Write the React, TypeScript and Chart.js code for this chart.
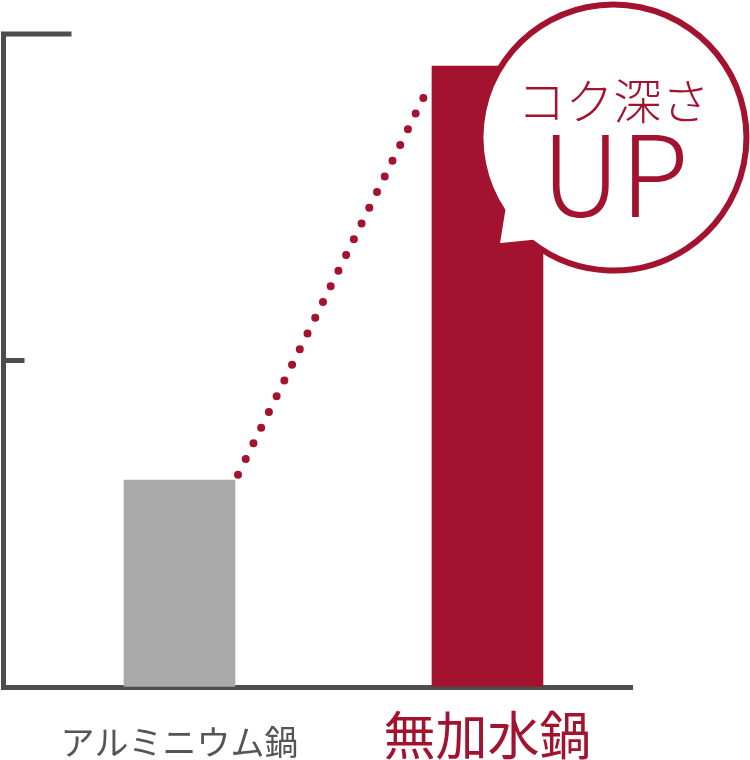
import React, { useEffect, useRef } from 'react';
import { Chart, ChartConfiguration, Plugin, registerables } from 'chart.js';

Chart.register(...registerables);

// categories and values (y axis 0..100, no labels)
const categories = ['アルミニウム鍋', '無加水鍋'];
const barPositions = [0, 1];
const richness = [31.7, 95.1];
const yTicks = [0, 50, 100];

// dotted trend line between the two bars
const trendX = [0.19, 0.8];
const trendY = [32.5, 91.0];

const bubbleLines = ['コク深さ', 'UP'];

const RED = '#a3122f';
const GRAY_BAR = '#aaaaaa';
const AXIS = '#4d4d4d';
const LABEL_GRAY = '#555555';
const JP_FONT = '"Noto Sans CJK JP", "Noto Sans", sans-serif';

const tickMarkPlugin: Plugin<'bar'> = {
  id: 'tickMarks',
  afterDraw(chart, _args, opts: any) {
    const { ctx, chartArea, scales } = chart;
    const y = scales.y;
    ctx.save();
    ctx.strokeStyle = opts.color;
    ctx.lineWidth = opts.width;
    yTicks.forEach((v, i) => {
      const len = opts.lengths[i];
      if (!len) return;
      const py = y.getPixelForValue(v);
      ctx.beginPath();
      ctx.moveTo(chartArea.left - opts.width / 2, py);
      ctx.lineTo(chartArea.left + len, py);
      ctx.stroke();
    });
    ctx.restore();
  },
};

const bubblePlugin: Plugin<'bar'> = {
  id: 'bubble',
  afterDatasetsDraw(chart, _args, opts: any) {
    const { ctx, scales } = chart;
    const cx = scales.x.getPixelForValue(opts.x);
    const cy = scales.y.getPixelForValue(opts.y);
    const r = opts.radius;
    const a1 = (opts.tailStart * Math.PI) / 180;
    const a2 = (opts.tailEnd * Math.PI) / 180;
    ctx.save();
    ctx.beginPath();
    ctx.arc(cx, cy, r, a1, a2, false);
    ctx.lineTo(cx + opts.tipDx, cy + opts.tipDy);
    ctx.closePath();
    ctx.fillStyle = '#ffffff';
    ctx.fill();
    ctx.lineWidth = opts.lineWidth;
    ctx.strokeStyle = RED;
    ctx.lineJoin = 'miter';
    ctx.stroke();

    ctx.fillStyle = RED;
    ctx.textAlign = 'center';
    ctx.textBaseline = 'middle';
    ctx.font = `300 48px ${JP_FONT}`;
    ctx.fillText(bubbleLines[0], cx, cy - 37);
    ctx.textBaseline = 'alphabetic';
    ctx.font = `300 112px ${JP_FONT}`;
    ctx.fillText(bubbleLines[1], cx + 1.5, cy + 79.5);
    ctx.restore();
  },
};

const App: React.FC = () => {
  const canvasRef = useRef<HTMLCanvasElement>(null);
  const chartRef = useRef<Chart | null>(null);

  useEffect(() => {
    if (!canvasRef.current) return;
    if (chartRef.current) {
      chartRef.current.destroy();
    }
    const ctx = canvasRef.current.getContext('2d');
    if (!ctx) return;

    const config: ChartConfiguration<'bar'> = {
      type: 'bar',
      data: {
        datasets: [
          {
            type: 'line' as any,
            data: trendX.map((x, i) => ({ x, y: trendY[i] })) as any,
            borderColor: RED,
            borderWidth: 8,
            borderDash: [0, 17.5],
            borderCapStyle: 'round',
            pointRadius: 0,
            fill: false,
          } as any,
          {
            data: barPositions.map((x, i) => ({ x, y: richness[i] })) as any,
            backgroundColor: [GRAY_BAR, RED],
            borderWidth: 0,
            barThickness: 111,
          },
        ],
      },
      options: {
        responsive: false,
        animation: false,
        layout: { padding: { left: 3.5, top: 34, right: 118, bottom: 0 } },
        plugins: {
          legend: { display: false },
          tooltip: { enabled: false },
          tickMarks: { color: AXIS, width: 5, lengths: [0, 21, 68] },
          bubble: {
            x: 1.409,
            y: 84.15,
            radius: 133,
            tailStart: 146.7,
            tailEnd: 127.6,
            tipDx: -117,
            tipDy: 109,
            lineWidth: 6,
          },
        } as any,
        scales: {
          x: {
            type: 'linear',
            min: -0.5714,
            max: 1.4692,
            offset: false,
            grid: { display: true, color: 'rgba(0,0,0,0)', drawTicks: false, offset: false },
            border: { display: true, color: AXIS, width: 5 },
            afterBuildTicks: (scale) => {
              scale.ticks = barPositions.map((v) => ({ value: v }));
            },
            afterFit: (scale) => {
              scale.height = 73;
            },
            ticks: {
              autoSkip: false,
              maxRotation: 0,
              minRotation: 0,
              padding: 22,
              callback: (v) => categories[barPositions.indexOf(Number(v))] ?? '',
              color: (c) => (c.index === 1 ? RED : LABEL_GRAY),
              font: (c) =>
                c.index === 1
                  ? { family: JP_FONT, size: 52, lineHeight: 1 }
                  : { family: JP_FONT, size: 34, lineHeight: 1.95 },
            },
          },
          y: {
            min: 0,
            max: 100,
            grid: { display: true, color: 'rgba(0,0,0,0)', drawTicks: false },
            border: { display: true, color: AXIS, width: 5 },
            afterBuildTicks: (scale) => {
              scale.ticks = yTicks.map((v) => ({ value: v }));
            },
            afterFit: (scale) => {
              scale.width = 0;
            },
            ticks: { display: false },
          },
        },
      },
      plugins: [tickMarkPlugin, bubblePlugin],
    };

    chartRef.current = new Chart(ctx, config);

    return () => {
      if (chartRef.current) {
        chartRef.current.destroy();
        chartRef.current = null;
      }
    };
  }, []);

  return (
    <div style={{ position: 'absolute', left: 0, top: 0, width: 750, height: 760, background: '#fff' }}>
      <canvas ref={canvasRef} width={750} height={760} style={{ width: 750, height: 760 }} />
    </div>
  );
};

export default App;
